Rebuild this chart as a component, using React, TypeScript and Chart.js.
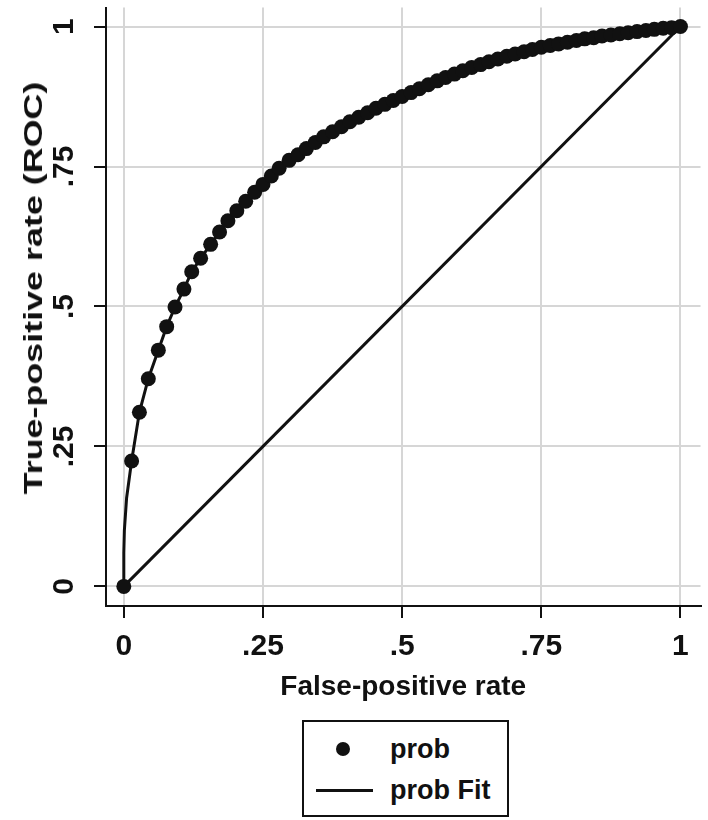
import React, { useEffect, useRef } from "react";
import { Chart, registerables } from "chart.js";

Chart.register(...registerables);

// Empirical ROC points (false-positive rate, true-positive rate)
const fprPoints = [
  0, 0.014, 0.028, 0.044, 0.062, 0.077, 0.092, 0.108, 0.122, 0.138, 0.156,
  0.172, 0.187, 0.203, 0.219, 0.235, 0.25, 0.265, 0.279, 0.297, 0.313,
  0.328, 0.344, 0.359, 0.375, 0.391, 0.406, 0.422, 0.438, 0.453, 0.469,
  0.484, 0.5, 0.516, 0.531, 0.547, 0.563, 0.578, 0.594, 0.609, 0.625,
  0.641, 0.656, 0.672, 0.688, 0.703, 0.719, 0.734, 0.75, 0.766, 0.781,
  0.797, 0.813, 0.828, 0.844, 0.859, 0.875, 0.891, 0.906, 0.922, 0.938,
  0.953, 0.969, 0.984, 1.0,
];
const tprPoints = [
  0, 0.224, 0.311, 0.371, 0.422, 0.464, 0.499, 0.531, 0.562, 0.586, 0.611,
  0.633, 0.653, 0.671, 0.688, 0.704, 0.718, 0.733, 0.747, 0.761, 0.771,
  0.782, 0.793, 0.803, 0.812, 0.821, 0.83, 0.838, 0.846, 0.854, 0.861,
  0.868, 0.875, 0.882, 0.889, 0.896, 0.903, 0.909, 0.915, 0.921, 0.927,
  0.932, 0.937, 0.942, 0.947, 0.951, 0.955, 0.959, 0.963, 0.966, 0.969,
  0.972, 0.975, 0.978, 0.98, 0.983, 0.985, 0.987, 0.989, 0.991, 0.993,
  0.995, 0.997, 0.998, 1.0,
];

// Fitted curve: extra points near the origin, then through the ROC points
const fitFprStart = [0, 0.0, 0.001, 0.005];
const fitTprStart = [0, 0.06, 0.1, 0.158];

// Chance diagonal
const diagFpr = [0, 1];
const diagTpr = [0, 1];

const tickValues = [0, 0.25, 0.5, 0.75, 1];
const tickLabels = ["0", ".25", ".5", ".75", "1"];

const seriesLabels = ["prob", "prob Fit"];
const xTitle = "False-positive rate";
const yTitle = "True-positive rate (ROC)";

const INK = "#111111";
const GRID = "#d6d6d6";
const FONT = "'Liberation Sans', Arial, Helvetica, sans-serif";

export default function App() {
  const canvasRef = useRef<HTMLCanvasElement | null>(null);

  useEffect(() => {
    document.body.style.margin = "0";
    const canvas = canvasRef.current;
    if (!canvas) return;

    const points = fprPoints.map((x, i) => ({ x, y: tprPoints[i] }));
    const fit = [
      ...fitFprStart.map((x, i) => ({ x, y: fitTprStart[i] })),
      ...fprPoints.slice(1).map((x, i) => ({ x, y: tprPoints[i + 1] })),
    ];
    const diag = diagFpr.map((x, i) => ({ x, y: diagTpr[i] }));

    const tickFont = { family: FONT, size: 30, weight: "bold" as const };
    const titleFont = { family: FONT, size: 28, weight: "bold" as const };
    const labelFor = (v: number | string) => {
      const idx = tickValues.indexOf(Number(v));
      return idx >= 0 ? tickLabels[idx] : "";
    };

    const chart = new Chart(canvas, {
      type: "scatter",
      data: {
        datasets: [
          {
            label: seriesLabels[0],
            data: points,
            showLine: false,
            pointRadius: 7.5,
            pointBackgroundColor: INK,
            pointBorderColor: INK,
            pointBorderWidth: 0,
            order: 0,
          },
          {
            label: seriesLabels[1],
            data: fit,
            showLine: true,
            borderColor: INK,
            borderWidth: 3,
            pointRadius: 0,
            order: 1,
          },
          {
            label: "reference",
            data: diag,
            showLine: true,
            borderColor: INK,
            borderWidth: 3,
            pointRadius: 0,
            order: 2,
          },
        ],
      },
      options: {
        responsive: false,
        maintainAspectRatio: false,
        animation: false,
        layout: { padding: { left: 0, right: 0, top: 0, bottom: 110 } },
        plugins: {
          legend: { display: false },
          tooltip: { enabled: false },
        },
        scales: {
          x: {
            type: "linear",
            min: -0.032,
            max: 1.036,
            afterBuildTicks: (s: any) => {
              s.ticks = tickValues.map((v) => ({ value: v }));
            },
            afterFit: (s: any) => {
              s.height = 104;
              s.paddingLeft = 0;
              s.paddingRight = 0;
            },
            ticks: {
              callback: labelFor,
              font: tickFont,
              color: INK,
              padding: 11,
              autoSkip: false,
              maxRotation: 0,
              minRotation: 0,
            },
            grid: {
              color: GRID,
              lineWidth: 2,
              tickColor: INK,
              tickLength: 12,
              tickWidth: 2,
            },
            border: { color: INK, width: 2 },
            title: {
              display: true,
              text: xTitle,
              font: titleFont,
              color: INK,
              padding: { top: 0, bottom: 6 },
            },
          },
          y: {
            type: "linear",
            min: -0.035,
            max: 1.034,
            afterBuildTicks: (s: any) => {
              s.ticks = tickValues.map((v) => ({ value: v }));
            },
            afterFit: (s: any) => {
              s.width = 106;
              s.paddingTop = 0;
              s.paddingBottom = 0;
            },
            ticks: {
              callback: labelFor,
              font: tickFont,
              color: INK,
              padding: 8,
              autoSkip: false,
              minRotation: 90,
              maxRotation: 90,
              crossAlign: "center",
            },
            grid: {
              color: GRID,
              lineWidth: 2,
              tickColor: INK,
              tickLength: 12,
              tickWidth: 2,
            },
            border: { color: INK, width: 2 },
            title: { display: false, text: yTitle },
          },
        },
      },
    });

    return () => chart.destroy();
  }, []);

  const legendText: React.CSSProperties = {
    position: "absolute",
    left: 86,
    fontFamily: FONT,
    fontWeight: "bold",
    fontSize: 27,
    lineHeight: "30px",
    color: INK,
    whiteSpace: "nowrap",
  };

  return (
    <div style={{ position: "absolute", left: 0, top: 0, width: 708, height: 820, background: "#fff" }}>
      <canvas ref={canvasRef} width={708} height={820} style={{ display: "block", width: 708, height: 820 }} />
      <div
        style={{
          position: "absolute",
          left: 33,
          top: 288,
          transform: "translate(-50%, -50%) rotate(-90deg) scaleX(1.38)",
          fontFamily: FONT,
          fontWeight: "bold",
          fontSize: 26,
          lineHeight: "28px",
          color: INK,
          whiteSpace: "nowrap",
        }}
      >
        {yTitle}
      </div>
      <div
        style={{
          position: "absolute",
          left: 302,
          top: 720,
          width: 207,
          height: 97,
          border: `2px solid ${INK}`,
          boxSizing: "border-box",
          background: "#fff",
        }}
      >
        <div
          style={{
            position: "absolute",
            left: 41 - 2 - 7,
            top: 29 - 2 - 7,
            width: 14,
            height: 14,
            borderRadius: "50%",
            background: INK,
          }}
        />
        <div style={{ ...legendText, top: 29 - 2 - 15 }}>{seriesLabels[0]}</div>
        <div
          style={{
            position: "absolute",
            left: 14 - 2,
            top: 70 - 2 - 1.5,
            width: 57,
            height: 3,
            background: INK,
          }}
        />
        <div style={{ ...legendText, top: 70 - 2 - 15 }}>{seriesLabels[1]}</div>
      </div>
    </div>
  );
}
